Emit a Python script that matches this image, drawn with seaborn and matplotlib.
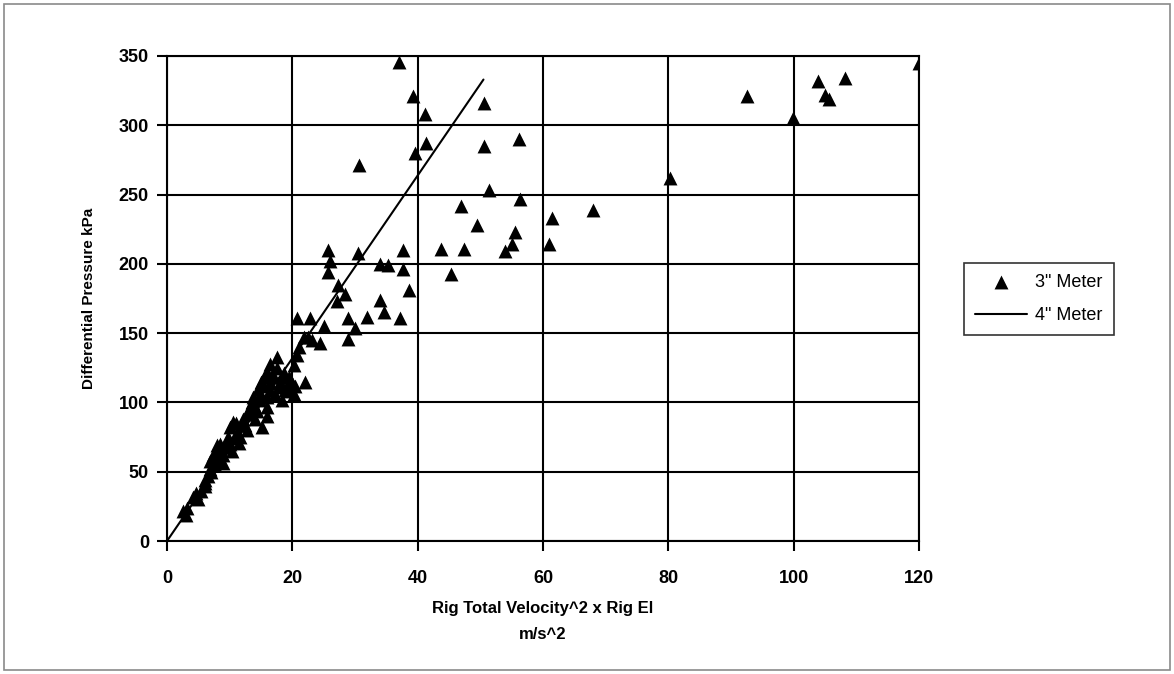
import matplotlib
matplotlib.use("Agg")
import matplotlib.pyplot as plt
from matplotlib.patches import Rectangle
import seaborn as sns
import pandas as pd

# ---- data ----
meter3_x = [2.6, 3.0, 3.2, 4.2, 4.7, 5.0, 5.5, 6.0, 6.1, 6.5, 6.9, 6.9, 7.4, 7.6, 7.9, 8.0,
            8.2, 8.7, 8.9, 9.3, 9.6, 9.8, 10.0, 10.1, 10.3, 10.6, 10.8, 11.1, 11.5, 11.6, 12.0,
            12.2, 12.5, 12.7, 13.0, 13.2, 13.5, 13.8, 14.0, 14.3, 14.8, 14.8, 15.1, 15.4, 15.5,
            15.9, 15.9, 16.0, 16.4, 16.4, 16.4, 16.8, 17.0, 17.2, 17.5, 17.8, 18.0, 18.3, 18.6,
            18.8, 19.1, 19.5, 19.9, 20.2, 20.2, 20.7, 21.0, 20.7, 22.0, 21.8, 22.5, 22.8, 23.1,
            24.4, 25.1, 25.7, 26.0, 25.7, 27.3, 28.4, 27.1, 28.9, 28.9, 30.0, 30.5, 30.6, 31.9,
            34.0, 34.0, 34.6, 35.3, 37.2, 37.6, 37.6, 38.6, 37.0, 39.2, 41.2, 41.4, 39.6, 50.6,
            50.6, 56.2, 51.4, 56.4, 46.9, 49.4, 55.5, 55.1, 53.9, 43.7, 47.4, 45.3, 61.5, 67.9,
            61.0, 80.3, 92.6, 99.9, 103.9, 108.2, 105.0, 105.6, 120.0,
            13.5, 14.5, 15.0, 16.0, 17.5, 18.5, 19.5, 20.5, 11.0, 9.0, 8.5, 7.0, 6.0, 12.8, 14.0]
meter3_y = [22, 19, 24, 32, 35, 30, 36, 40, 44, 47, 52, 58, 62, 55, 69, 65,
            60, 63, 56, 68, 72, 75, 70, 82, 65, 86, 74, 79, 71, 75, 84,
            88, 84, 80, 92, 97, 100, 104, 97, 94, 102, 106, 82, 118, 112,
            90, 97, 104, 109, 114, 128, 120, 118, 106, 133, 111, 115, 102, 121,
            109, 111, 118, 114, 106, 127, 134, 140, 161, 115, 147, 147, 161, 145,
            143, 155, 210, 202, 194, 185, 178, 173, 161, 146, 154, 208, 271, 162,
            200, 174, 165, 199, 161, 210, 196, 181, 346, 321, 308, 287, 280, 316,
            285, 290, 253, 247, 242, 228, 223, 214, 209, 211, 211, 193, 233, 239,
            214, 262, 321, 305, 332, 334, 322, 319, 345,
            96, 110, 115, 122, 125, 118, 108, 112, 85, 62, 70, 50, 42, 92, 88]
meter4_x = [0.0, 50.5]
meter4_y = [0.0, 333.0]

x_ticks = [0, 20, 40, 60, 80, 100, 120]
y_ticks = [0, 50, 100, 150, 200, 250, 300, 350]

df3 = pd.DataFrame({"x": meter3_x, "y": meter3_y})
df4 = pd.DataFrame({"x": meter4_x, "y": meter4_y})

sns.set_theme(style="white")
plt.rcParams["font.family"] = ["Liberation Sans", "DejaVu Sans"]
plt.rcParams["text.color"] = "black"
plt.rcParams["axes.labelcolor"] = "black"
plt.rcParams["xtick.color"] = "black"
plt.rcParams["ytick.color"] = "black"

fig = plt.figure(figsize=(11.74, 6.74), dpi=100)
ax = fig.add_axes([167 / 1174, 1 - 541 / 674, (919 - 167) / 1174, (541 - 56) / 674])

sns.lineplot(data=df4, x="x", y="y", ax=ax, color="black", linewidth=1.5,
             sort=False, estimator=None, label="4\" Meter", zorder=3)
sns.scatterplot(data=df3, x="x", y="y", ax=ax, marker="^", s=100, color="black",
                linewidth=0, label="3\" Meter", zorder=4)

ax.set_xlim(0, 120)
ax.set_ylim(0, 350)
ax.set_xticks(x_ticks)
ax.set_yticks(y_ticks)
ax.set_xticklabels([str(v) for v in x_ticks], fontsize=13, fontweight="bold", color="black")
ax.set_yticklabels([str(v) for v in y_ticks], fontsize=13, fontweight="bold", color="black")
ax.grid(True, color="black", linewidth=1.5)
ax.set_axisbelow(True)
for s in ax.spines.values():
    s.set_color("black")
    s.set_linewidth(1.5)
ax.tick_params(axis="both", which="major", direction="out", length=7, width=1.5,
               color="black", bottom=True, left=True, pad=6)
ax.tick_params(axis="x", pad=14)

ax.set_xlabel("Rig Total Velocity^2 x Rig El\nm/s^2", fontsize=12, fontweight="bold",
              labelpad=10, linespacing=1.9, color="black")
ax.set_ylabel("Differential Pressure kPa", fontsize=11, fontweight="bold", labelpad=16,
              color="black")

handles, labels = ax.get_legend_handles_labels()
order = [labels.index("3\" Meter"), labels.index("4\" Meter")]
leg = ax.legend([handles[i] for i in order], [labels[i] for i in order],
                loc="center left", bbox_to_anchor=(964 / 1174, 1 - 299 / 674),
                bbox_transform=fig.transFigure, borderaxespad=0, frameon=True,
                fancybox=False, edgecolor="black", fontsize=13, handlelength=2.9,
                handletextpad=0.45, borderpad=0.6, labelspacing=0.9, markerscale=1.0)
leg.get_frame().set_linewidth(1.2)
for t in leg.get_texts():
    t.set_color("black")

fig.patches.append(Rectangle((4 / 1174, 4 / 674), 1166 / 1174, 666 / 674,
                             transform=fig.transFigure, fill=False,
                             edgecolor="#8a8a8a", linewidth=1.2))

fig.savefig("out.png", dpi=100, facecolor="white")
